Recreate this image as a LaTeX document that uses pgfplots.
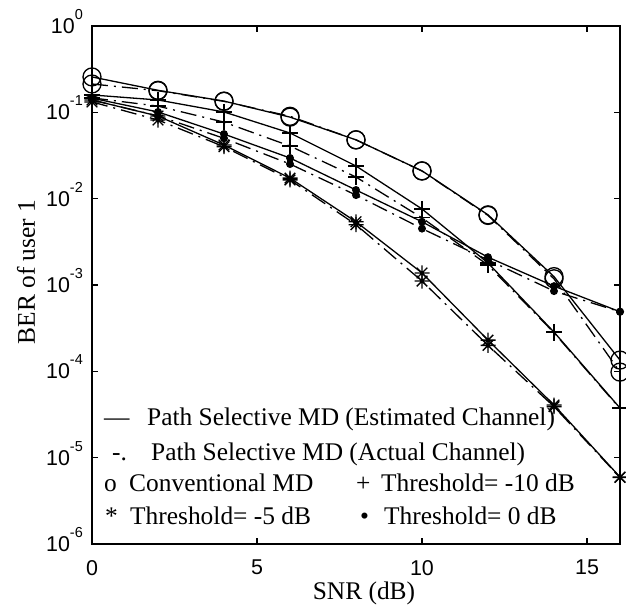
\documentclass[border=0pt]{standalone}
\usepackage{pgfplots}
\pgfplotsset{compat=1.18}
\usepackage{fontspec}
\setmainfont{Liberation Serif}
\newfontfamily\arial{Liberation Sans}
\newcommand{\ytl}[1]{\arial\fontsize{21.5}{22}\selectfont 10\smash{\raisebox{14bp}{\fontsize{14.5}{14.5}\selectfont #1}}}
\pgfdeclareplotmark{mstar}{%
 \pgfpathmoveto{\pgfqpoint{-\pgfplotmarksize}{0pt}}\pgfpathlineto{\pgfqpoint{\pgfplotmarksize}{0pt}}%
 \pgfpathmoveto{\pgfqpoint{0pt}{-\pgfplotmarksize}}\pgfpathlineto{\pgfqpoint{0pt}{\pgfplotmarksize}}%
 \pgfpathmoveto{\pgfqpoint{-.7071\pgfplotmarksize}{-.7071\pgfplotmarksize}}\pgfpathlineto{\pgfqpoint{.7071\pgfplotmarksize}{.7071\pgfplotmarksize}}%
 \pgfpathmoveto{\pgfqpoint{-.7071\pgfplotmarksize}{.7071\pgfplotmarksize}}\pgfpathlineto{\pgfqpoint{.7071\pgfplotmarksize}{-.7071\pgfplotmarksize}}%
 \pgfusepathqstroke}
\tikzset{dd/.style={dash pattern=on 16bp off 6bp on 2bp off 6bp}}
\begin{document}
\begin{tikzpicture}
\begin{axis}[
 at={(0,0)}, anchor=south west,
 scale only axis, width=528bp, height=518bp,
 ymode=log, xmin=0, xmax=16, ymin=1e-6, ymax=1,
 xtick={0,5,10,15}, xticklabels={0,5,10,15},
 ytick={1e-6,1e-5,1e-4,1e-3,1e-2,1e-1,1},
 yticklabels={\ytl{-6},\ytl{-5},\ytl{-4},\ytl{-3},\ytl{-2},\ytl{-1},\ytl{0}},
 yminorticks=false,
 tick align=inside, major tick length=6bp,
 axis line style={line width=1.5bp},
 every tick/.style={black, line width=1.2bp},
 xticklabel style={font=\arial\fontsize{21.5}{22}\selectfont, inner sep=0pt, yshift=-16bp},
 yticklabel style={inner sep=0pt, xshift=-9bp},
 every axis plot/.append style={black, line width=1.3bp, mark options={solid}},
]
% Conventional MD
\addplot[mark=o, mark size=9bp] coordinates {(0,0.257)(2,0.18)(4,0.135)(6,0.088)(8,0.048)(10,0.021)(12,0.0065)(14,0.00125)(16,1.35e-4)};
\addplot[dd, mark=o, mark size=9bp] coordinates {(0,0.213)(2,0.178)(4,0.134)(6,0.09)(8,0.048)(10,0.0209)(12,0.0064)(14,0.00118)(16,9.8e-5)};
% Threshold -10 dB
\addplot[mark=+, mark size=8bp] coordinates {(0,0.159)(2,0.139)(4,0.101)(6,0.0576)(8,0.0239)(10,0.0076)(12,0.0018)(14,2.85e-4)(16,3.76e-5)};
\addplot[dd, mark=+, mark size=8bp] coordinates {(0,0.147)(2,0.118)(4,0.077)(6,0.0407)(8,0.0178)(10,0.0060)(12,0.0017)(14,2.8e-4)(16,3.7e-5)};
% Threshold -5 dB
\addplot[mark=mstar, mark size=7.5bp] coordinates {(0,0.139)(2,0.0906)(4,0.0418)(6,0.0173)(8,0.0054)(10,0.00138)(12,2.3e-4)(14,4.07e-5)(16,5.97e-6)};
\addplot[dd, mark=mstar, mark size=7.5bp] coordinates {(0,0.132)(2,0.0815)(4,0.040)(6,0.0165)(8,0.0050)(10,0.00111)(12,2.0e-4)(14,3.9e-5)(16,5.9e-6)};
% Threshold 0 dB
\addplot[mark=*, mark size=3.3bp] coordinates {(0,0.146)(2,0.101)(4,0.056)(6,0.0296)(8,0.0126)(10,0.0054)(12,0.0021)(14,9.7e-4)(16,4.9e-4)};
\addplot[dd, mark=*, mark size=3.3bp] coordinates {(0,0.139)(2,0.091)(4,0.050)(6,0.0252)(8,0.011)(10,0.0045)(12,0.00195)(14,8.5e-4)(16,4.9e-4)};
\end{axis}
\begin{scope}[every node/.style={inner sep=0pt, font=\fontsize{25.5}{30}\selectfont}]
\node[anchor=base] at (272bp,-55bp) {SNR (dB)};
\node[anchor=base, rotate=90] at (-57bp,272bp) {BER of user 1};
\node[anchor=base west] at (12bp,118bp) {\textemdash};
\node[anchor=base west] at (55bp,118bp) {Path Selective MD (Estimated Channel)};
\node[anchor=base west] at (20bp,83bp) {-.};
\node[anchor=base west] at (59bp,83bp) {Path Selective MD (Actual Channel)};
\node[anchor=base west] at (12bp,52bp) {o};
\node[anchor=base west] at (37bp,52bp) {Conventional MD};
\node[anchor=base west] at (264bp,52bp) {+};
\node[anchor=base west] at (289bp,52bp) {Threshold= -10 dB};
\node[anchor=base west] at (13bp,20bp) {*};
\node[anchor=base west] at (38bp,20bp) {Threshold= -5 dB};
\node[anchor=base west] at (268bp,20bp) {\textbullet};
\node[anchor=base west] at (292bp,20bp) {Threshold= 0 dB};
\end{scope}
\pgfresetboundingbox
\path (-92bp,-62bp) rectangle (534bp,544bp);
\end{tikzpicture}
\end{document}
